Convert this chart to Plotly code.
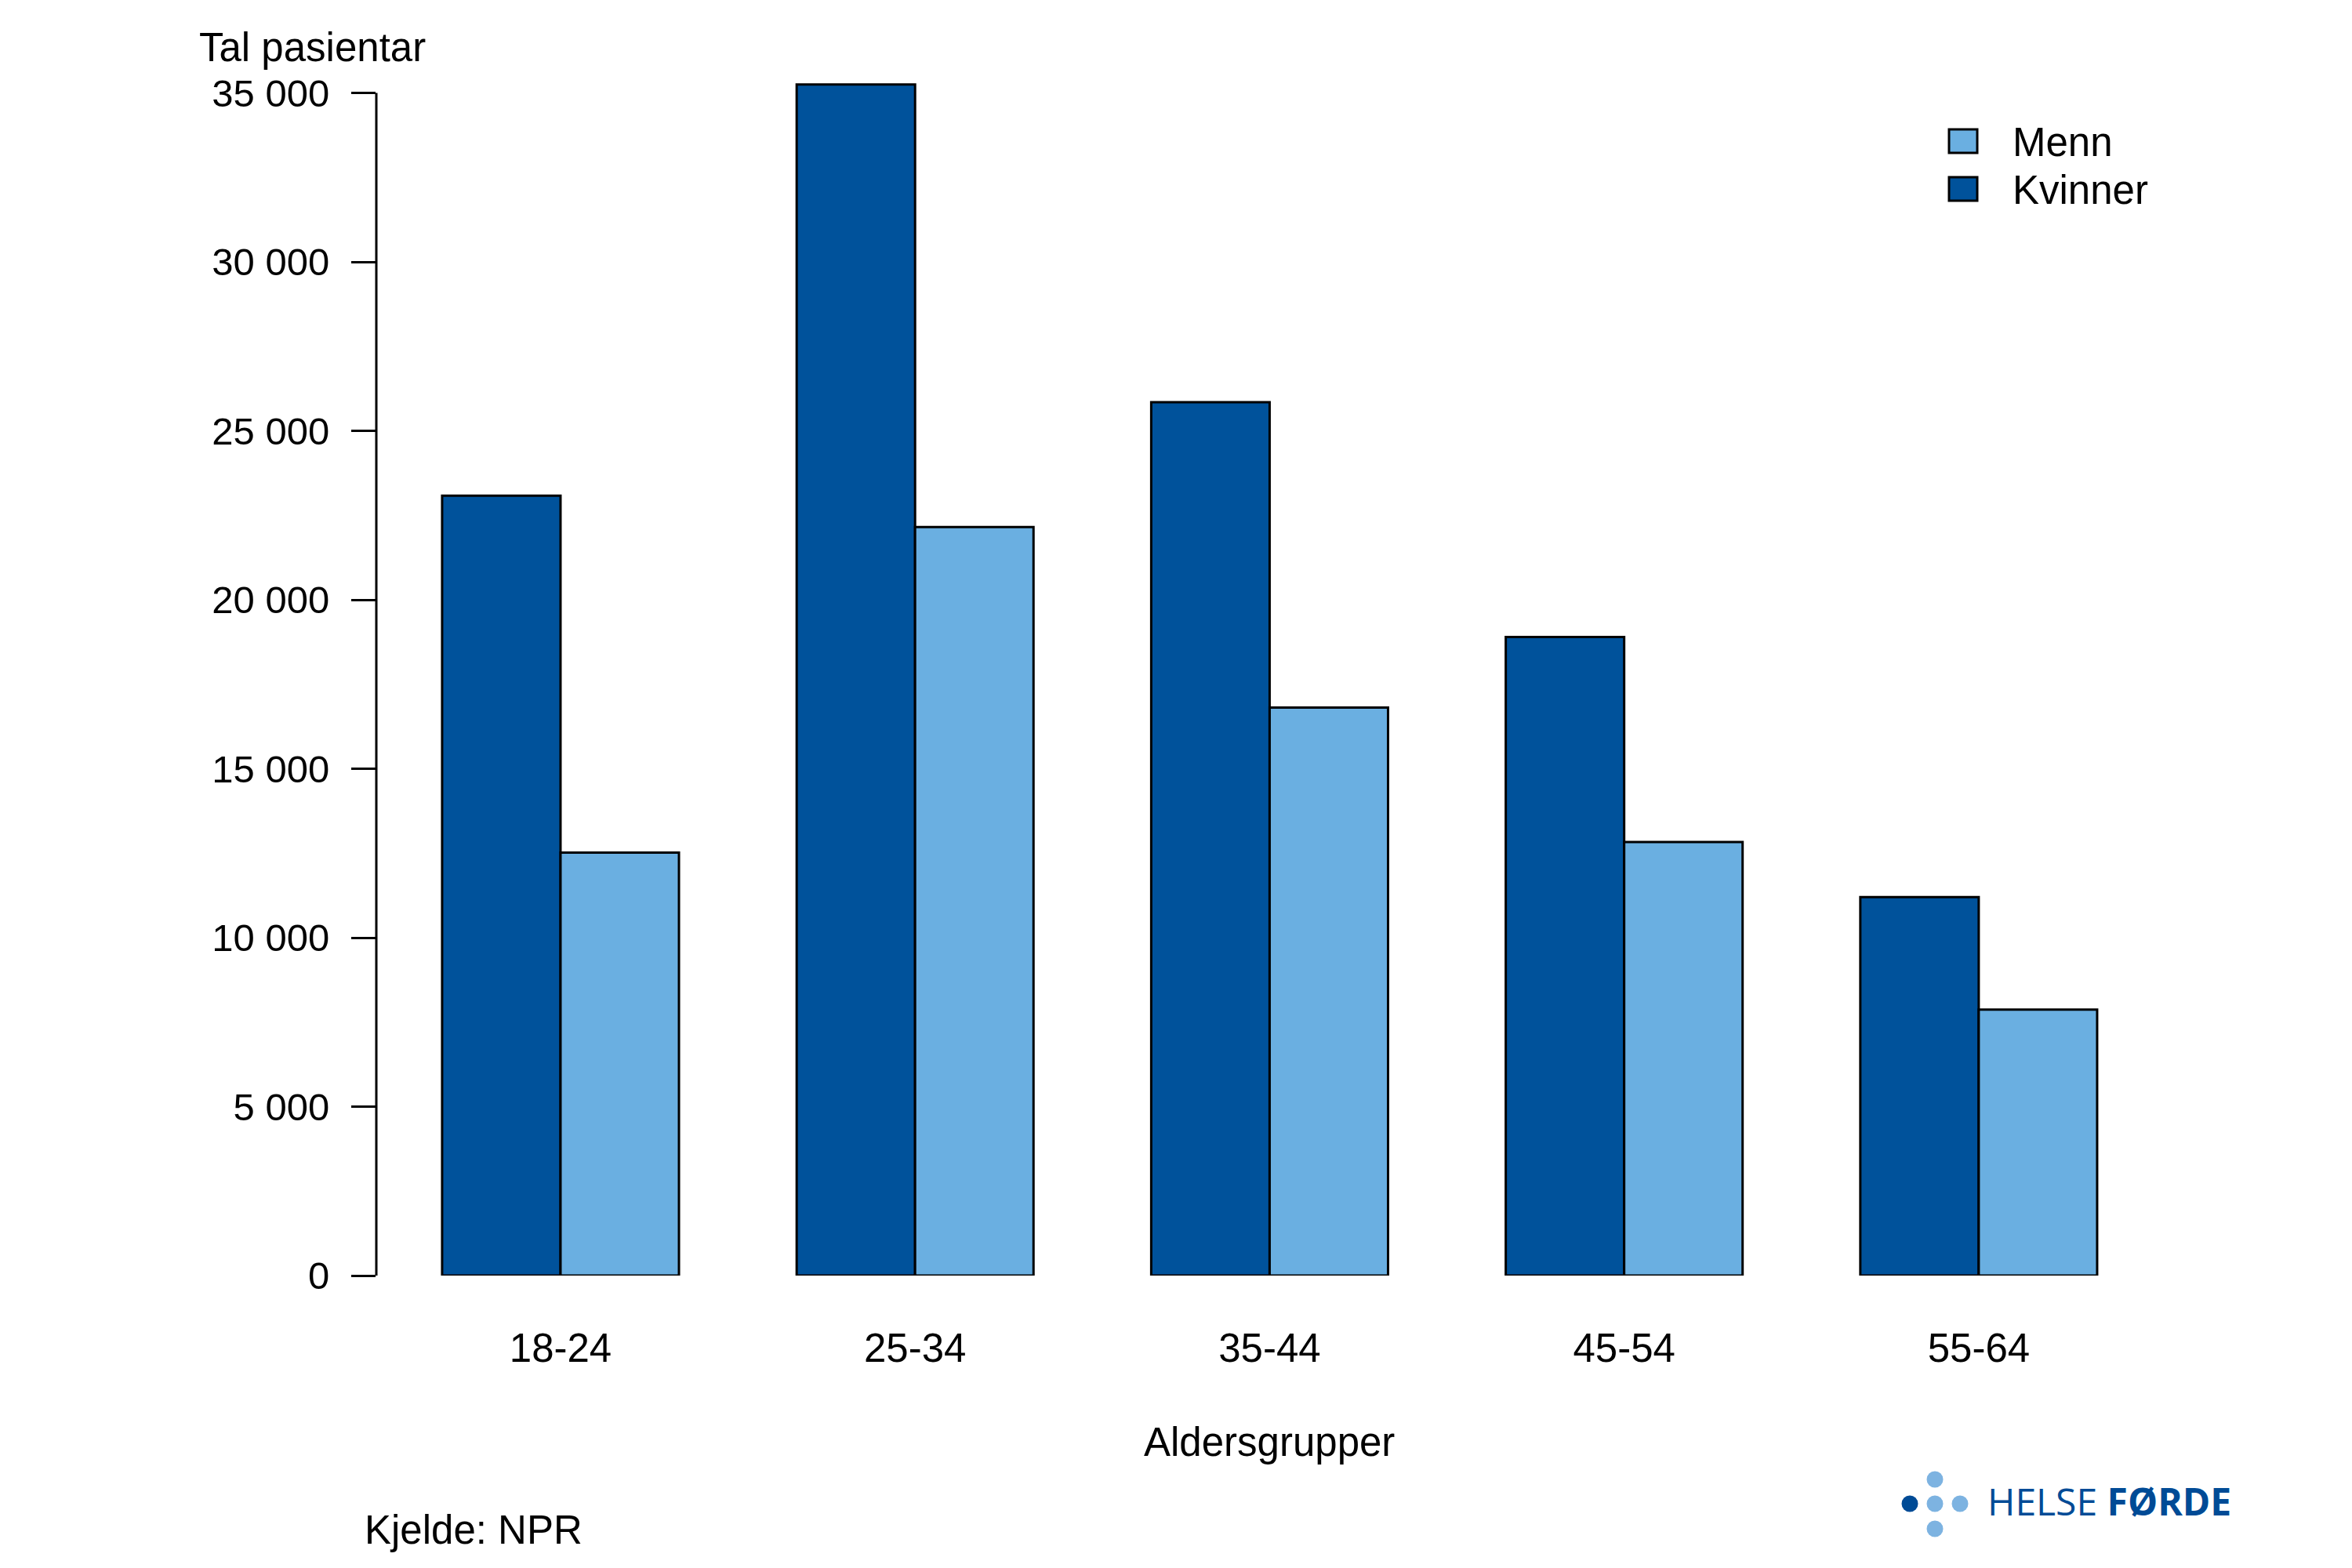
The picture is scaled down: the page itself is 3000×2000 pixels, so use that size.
import plotly.graph_objects as go

# ---- data ----
age_groups = ["18-24", "25-34", "35-44", "45-54", "55-64"]
kvinner = [23080, 35250, 25850, 18900, 11200]
menn = [12520, 22150, 16810, 12830, 7870]
y_tickvals = [0, 5000, 10000, 15000, 20000, 25000, 30000, 35000]
y_ticktext = ["0", "5 000", "10 000", "15 000", "20 000", "25 000", "30 000", "35 000"]

# ---- layout geometry (screen pixels; page body has an 8px margin) ----
OFF = 8
W, H = 3000, 2000
L, R, T, B = 480, 2750, 97, 1627   # plot-area edges on screen

def px2x(px):
    return (px - L) / (R - L)

def px2y(py):
    return (B - py) / (B - T)

C_KV = "#00529B"
C_ME = "#6AAFE1"
C_LOGO_DARK = "#004B96"
C_LOGO_LIGHT = "#7DB3E1"
FONT = "Liberation Sans, Arial, sans-serif"
FS = 51

fig = go.Figure()
fig.add_trace(go.Bar(x=age_groups, y=kvinner, name="Kvinner",
                     marker=dict(color=C_KV, line=dict(color="black", width=3)),
                     showlegend=False))
fig.add_trace(go.Bar(x=age_groups, y=menn, name="Menn",
                     marker=dict(color=C_ME, line=dict(color="black", width=3)),
                     showlegend=False))

shapes = []
# y axis line spanning 0 .. 35000 only
shapes.append(dict(type="line", xref="paper", yref="y", x0=0, x1=0,
                   y0=y_tickvals[0], y1=y_tickvals[-1],
                   line=dict(color="black", width=3)))
# legend boxes
legend_items = [("Menn", C_ME, 165, 195, 181), ("Kvinner", C_KV, 226, 256, 242)]
annotations = []
for label, col, y0, y1, yc in legend_items:
    shapes.append(dict(type="rect", xref="paper", yref="paper",
                       x0=px2x(2486), x1=px2x(2522), y0=px2y(y1), y1=px2y(y0),
                       fillcolor=col, line=dict(color="black", width=3)))
    annotations.append(dict(text=label, xref="paper", yref="paper",
                            x=px2x(2565), y=px2y(yc), xanchor="left", yanchor="middle",
                            showarrow=False, font=dict(family=FONT, size=FS, color="black")))

# logo dots
dots = [(2436, 1918, C_LOGO_DARK), (2468, 1918, C_LOGO_LIGHT), (2500, 1918, C_LOGO_LIGHT),
        (2468, 1887, C_LOGO_LIGHT), (2468, 1950, C_LOGO_LIGHT)]
r = 10.5
for cx, cy, col in dots:
    shapes.append(dict(type="circle", xref="paper", yref="paper",
                       xsizemode="pixel", ysizemode="pixel",
                       xanchor=px2x(cx), yanchor=px2y(cy),
                       x0=-r, x1=r, y0=-r, y1=r,
                       fillcolor=col, line=dict(width=0)))

annotations += [
    dict(text="Tal pasientar", xref="paper", yref="paper", x=px2x(252), y=px2y(60),
         xanchor="left", yanchor="middle", showarrow=False,
         font=dict(family=FONT, size=FS, color="black")),
    dict(text="Aldersgrupper", xref="paper", yref="paper", x=px2x(1619), y=px2y(1839),
         xanchor="center", yanchor="middle", showarrow=False,
         font=dict(family=FONT, size=FS, color="black")),
    dict(text="Kjelde: NPR", xref="paper", yref="paper", x=px2x(463), y=px2y(1952),
         xanchor="left", yanchor="middle", showarrow=False,
         font=dict(family=FONT, size=FS, color="black")),
    dict(text="HELSE <b>FØRDE</b>", xref="paper", yref="paper", x=px2x(2533), y=px2y(1914),
         xanchor="left", yanchor="middle", showarrow=False,
         font=dict(family="Open Sans, sans-serif", size=48, color=C_LOGO_DARK)),
]

fig.update_layout(
    width=W, height=H,
    margin=dict(l=L - OFF, r=W - R + OFF, t=T - OFF, b=H - B + OFF, autoexpand=False),
    paper_bgcolor="white", plot_bgcolor="white",
    barmode="group", bargap=0.332, bargroupgap=0,
    font=dict(family=FONT, size=FS, color="black"),
    shapes=shapes, annotations=annotations,
    xaxis=dict(range=[-0.5196, 4.5], showline=False, showgrid=False, zeroline=False,
               ticks="", ticklabelstandoff=58, tickfont=dict(family=FONT, size=FS, color="black")),
    yaxis=dict(range=[0, 35500], showline=False, showgrid=False, zeroline=False,
               tickvals=y_tickvals, ticktext=y_ticktext,
               ticks="outside", ticklen=31, tickwidth=3, tickcolor="black",
               ticklabelstandoff=18, tickfont=dict(family=FONT, size=49, color="black")),
)

fig.write_html("out.html")
